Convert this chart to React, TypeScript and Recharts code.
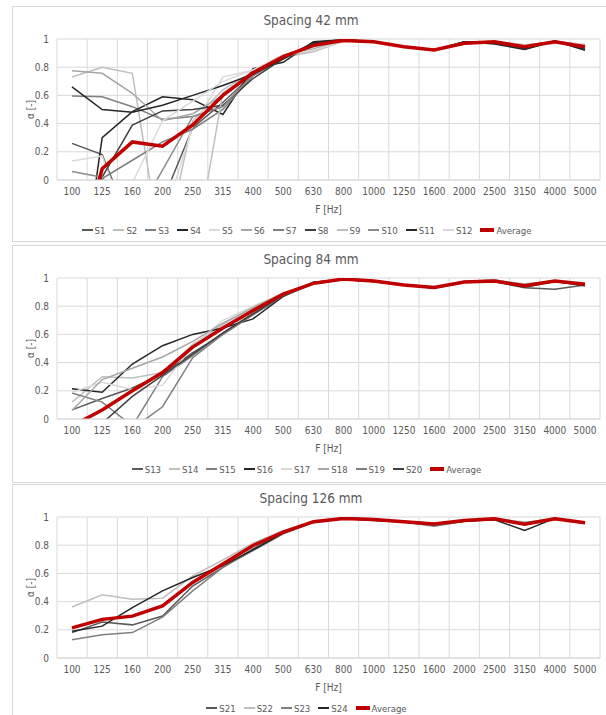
import React from 'react';
import { LineChart, Line, XAxis, YAxis, CartesianGrid, Legend } from 'recharts';

const FONT = '"Liberation Sans Narrow", "Arial Narrow", "DejaVu Sans Condensed", sans-serif';
const TEXT = '#595959';
const GRID = '#d9d9d9';
const RED = '#c00000';

const freqs = ['100', '125', '160', '200', '250', '315', '400', '500', '630', '800', '1000', '1250', '1600', '2000', '2500', '3150', '4000', '5000'];
const alphaTicks = [0, 0.1, 0.2, 0.3, 0.4, 0.5, 0.6, 0.7, 0.8, 0.9, 1];

// spacing 42 mm
const s1 = [0.26, 0.18, -0.35, -0.15, 0.37, 0.55, 0.75, 0.87, 0.965, 0.99, 0.98, 0.945, 0.92, 0.975, 0.97, 0.935, 0.98, 0.935];
const s2 = [0.73, 0.8, 0.757, -0.55, 0.42, 0.64, 0.77, 0.87, 0.91, 0.985, 0.98, 0.945, 0.925, 0.965, 0.98, 0.955, 0.975, 0.965];
const s3 = [0.595, 0.59, 0.52, 0.43, 0.45, 0.52, 0.74, 0.87, 0.95, 0.99, 0.98, 0.945, 0.92, 0.97, 0.975, 0.94, 0.98, 0.945];
const s4 = [-1.2, 0.3, 0.485, 0.59, 0.57, 0.465, 0.79, 0.835, 0.98, 0.995, 0.98, 0.945, 0.92, 0.98, 0.97, 0.93, 0.985, 0.925];
const s5 = [0.135, 0.17, -0.4, -0.3, 0.38, 0.73, 0.78, 0.88, 0.94, 0.99, 0.98, 0.945, 0.925, 0.97, 0.98, 0.955, 0.97, 0.96];
const s6 = [0.775, 0.757, 0.615, 0.42, 0.47, 0.6, 0.77, 0.88, 0.93, 0.99, 0.98, 0.945, 0.92, 0.97, 0.98, 0.95, 0.985, 0.955];
const s7 = [-0.5, 0.01, 0.14, 0.27, 0.36, 0.5, 0.74, 0.86, 0.95, 0.99, 0.98, 0.945, 0.92, 0.97, 0.98, 0.945, 0.98, 0.95];
const s8 = [-0.6, 0.02, 0.39, 0.49, 0.5, 0.53, 0.72, 0.86, 0.97, 0.99, 0.98, 0.945, 0.92, 0.975, 0.975, 0.93, 0.985, 0.93];
const s9 = [-1.5, -1.2, -1.0, -0.9, -0.6, 0.62, 0.76, 0.88, 0.92, 0.985, 0.98, 0.945, 0.925, 0.965, 0.98, 0.96, 0.975, 0.96];
const s10 = [0.06, 0.02, -0.3, 0.07, 0.45, 0.52, 0.75, 0.87, 0.95, 0.99, 0.98, 0.945, 0.92, 0.97, 0.98, 0.945, 0.98, 0.94];
const s11 = [0.66, 0.5, 0.48, 0.53, 0.6, 0.67, 0.75, 0.86, 0.975, 0.995, 0.98, 0.945, 0.92, 0.98, 0.965, 0.925, 0.985, 0.92];
const s12 = [-1.0, -0.5, -0.02, 0.42, 0.56, 0.7, 0.78, 0.89, 0.92, 0.985, 0.98, 0.945, 0.925, 0.965, 0.98, 0.96, 0.97, 0.965];
const avg42 = [-0.7, 0.08, 0.27, 0.24, 0.39, 0.6, 0.76, 0.875, 0.955, 0.99, 0.98, 0.945, 0.922, 0.97, 0.98, 0.945, 0.98, 0.945];

// spacing 84 mm
const s13 = [0.065, 0.145, 0.22, 0.32, 0.47, 0.6, 0.74, 0.87, 0.96, 0.99, 0.975, 0.95, 0.93, 0.97, 0.975, 0.93, 0.92, 0.95];
const s14 = [0.12, 0.3, 0.29, 0.33, 0.53, 0.67, 0.79, 0.89, 0.96, 0.99, 0.98, 0.955, 0.935, 0.975, 0.985, 0.955, 0.98, 0.965];
const s15 = [0.185, 0.12, -0.05, 0.3, 0.45, 0.61, 0.75, 0.88, 0.965, 0.99, 0.975, 0.95, 0.93, 0.97, 0.98, 0.945, 0.975, 0.95];
const s16 = [0.215, 0.19, 0.39, 0.52, 0.6, 0.645, 0.71, 0.87, 0.97, 0.99, 0.975, 0.95, 0.93, 0.975, 0.975, 0.94, 0.98, 0.945];
const s17 = [0.19, 0.26, 0.21, 0.24, 0.52, 0.7, 0.8, 0.895, 0.96, 0.99, 0.98, 0.955, 0.94, 0.975, 0.985, 0.96, 0.98, 0.965];
const s18 = [0.06, 0.28, 0.36, 0.44, 0.55, 0.68, 0.79, 0.89, 0.965, 0.99, 0.98, 0.95, 0.935, 0.975, 0.985, 0.955, 0.98, 0.96];
const s19 = [-0.4, -0.2, -0.07, 0.087, 0.435, 0.6, 0.74, 0.875, 0.96, 0.99, 0.975, 0.95, 0.93, 0.97, 0.98, 0.945, 0.975, 0.955];
const s20 = [-0.25, -0.03, 0.16, 0.31, 0.46, 0.61, 0.745, 0.88, 0.97, 0.99, 0.975, 0.95, 0.93, 0.97, 0.975, 0.935, 0.975, 0.945];
const avg84 = [-0.05, 0.064, 0.2, 0.33, 0.51, 0.645, 0.77, 0.885, 0.962, 0.993, 0.978, 0.95, 0.932, 0.972, 0.978, 0.945, 0.978, 0.955];

// spacing 126 mm
const s21 = [0.18, 0.255, 0.235, 0.298, 0.51, 0.643, 0.774, 0.893, 0.965, 0.99, 0.98, 0.965, 0.94, 0.97, 0.985, 0.96, 0.985, 0.955];
const s22 = [0.362, 0.448, 0.417, 0.424, 0.583, 0.695, 0.814, 0.905, 0.965, 0.99, 0.985, 0.97, 0.955, 0.975, 0.99, 0.965, 0.985, 0.965];
const s23 = [0.13, 0.165, 0.18, 0.29, 0.476, 0.643, 0.762, 0.88, 0.96, 0.99, 0.98, 0.965, 0.935, 0.97, 0.985, 0.96, 0.985, 0.96];
const s24 = [0.19, 0.226, 0.357, 0.476, 0.571, 0.655, 0.767, 0.886, 0.965, 0.99, 0.975, 0.965, 0.95, 0.97, 0.98, 0.905, 0.99, 0.955];
const avg126 = [0.214, 0.274, 0.297, 0.369, 0.536, 0.667, 0.798, 0.893, 0.967, 0.99, 0.983, 0.967, 0.95, 0.975, 0.988, 0.948, 0.988, 0.96];

type Series = { name: string; color: string; values: number[] };

const panel42: Series[] = [
  { name: 'S1', color: '#595959', values: s1 },
  { name: 'S2', color: '#bfbfbf', values: s2 },
  { name: 'S3', color: '#7f7f7f', values: s3 },
  { name: 'S4', color: '#262626', values: s4 },
  { name: 'S5', color: '#d9d9d9', values: s5 },
  { name: 'S6', color: '#a6a6a6', values: s6 },
  { name: 'S7', color: '#7f7f7f', values: s7 },
  { name: 'S8', color: '#404040', values: s8 },
  { name: 'S9', color: '#bfbfbf', values: s9 },
  { name: 'S10', color: '#8c8c8c', values: s10 },
  { name: 'S11', color: '#262626', values: s11 },
  { name: 'S12', color: '#d9d9d9', values: s12 },
  { name: 'Average', color: RED, values: avg42 },
];

const panel84: Series[] = [
  { name: 'S13', color: '#595959', values: s13 },
  { name: 'S14', color: '#bfbfbf', values: s14 },
  { name: 'S15', color: '#7f7f7f', values: s15 },
  { name: 'S16', color: '#262626', values: s16 },
  { name: 'S17', color: '#d9d9d9', values: s17 },
  { name: 'S18', color: '#a6a6a6', values: s18 },
  { name: 'S19', color: '#7f7f7f', values: s19 },
  { name: 'S20', color: '#404040', values: s20 },
  { name: 'Average', color: RED, values: avg84 },
];

const panel126: Series[] = [
  { name: 'S21', color: '#595959', values: s21 },
  { name: 'S22', color: '#bfbfbf', values: s22 },
  { name: 'S23', color: '#7f7f7f', values: s23 },
  { name: 'S24', color: '#262626', values: s24 },
  { name: 'Average', color: RED, values: avg126 },
];

const CHART_W = 596;
const CHART_H = 233;

// Excel puts the vertical gridlines between categories, not on them
const betweenCategories = ({ offset }: any) => {
  const step = offset.width / freqs.length;
  return freqs.map((_, i) => offset.left + i * step).concat(offset.left + offset.width);
};

const AlphaLabel = (props: any) => {
  const { viewBox } = props;
  const x = viewBox.x + 17;
  const y = viewBox.y + viewBox.height / 2;
  return (
    <text x={x} y={y} transform={`rotate(-90 ${x} ${y})`} textAnchor="middle" dominantBaseline="central" fill={TEXT} fontSize={10}>
      α [-]
    </text>
  );
};

// keep legend entries in series order (S1, S2, ..., Average)
const LegendRow = ({ payload, order }: any) => {
  const items = [...(payload || [])].sort((a: any, b: any) => order.indexOf(a.value) - order.indexOf(b.value));
  return (
    <div style={{ height: 26, paddingTop: 6, paddingLeft: 8, boxSizing: 'border-box', display: 'flex', justifyContent: 'center', alignItems: 'center', fontSize: 9.5, color: TEXT }}>
      {items.map((e: any) => (
        <span key={e.value} style={{ display: 'inline-flex', alignItems: 'center', marginRight: 8 }}>
          <span style={{ display: 'inline-block', width: e.value === 'Average' ? 14 : 11, height: e.value === 'Average' ? 4 : 2, background: e.color, marginRight: 2 }} />
          {e.value}
        </span>
      ))}
    </div>
  );
};

function SpacingPanel({ title, series, top, height }: { title: string; series: Series[]; top: number; height: number }) {
  const rows = freqs.map((f, i) => {
    const row: Record<string, string | number> = { f };
    series.forEach((s) => { row[s.name] = s.values[i]; });
    return row;
  });
  return (
    <div style={{ position: 'absolute', left: 12, top, width: 600, height, border: `1px solid ${GRID}`, background: '#fff' }}>
      <div style={{ position: 'absolute', left: 0, width: CHART_W, top: 5, textAlign: 'center', fontSize: 13.5, color: TEXT }}>{title}</div>
      <LineChart width={CHART_W} height={CHART_H} data={rows} margin={{ top: 32, right: 9, bottom: 0, left: 0 }}>
        <CartesianGrid stroke={GRID} verticalCoordinatesGenerator={betweenCategories} />
        <XAxis
          dataKey="f"
          interval={0}
          padding={{ left: 15, right: 15 }}
          height={34}
          tickLine={false}
          axisLine={{ stroke: GRID }}
          tick={{ fill: TEXT, fontSize: 10 }}
          label={{ value: 'F [Hz]', position: 'insideBottom', offset: 1, fill: TEXT, fontSize: 10 }}
        />
        <YAxis
          width={44}
          domain={[0, 1]}
          ticks={alphaTicks}
          allowDataOverflow
          tickLine={false}
          axisLine={false}
          tick={{ fill: TEXT, fontSize: 10 }}
          tickFormatter={(v: number) => String(v)}
          label={<AlphaLabel />}
        />
        <Legend verticalAlign="bottom" height={26} content={<LegendRow order={series.map((s) => s.name)} />} />
        {series.map((s) => (
          <Line
            key={s.name}
            dataKey={s.name}
            name={s.name}
            stroke={s.color}
            strokeWidth={s.name === 'Average' ? 3.5 : 1.5}
            dot={false}
            activeDot={false}
            isAnimationActive={false}
          />
        ))}
      </LineChart>
    </div>
  );
}

export default function App() {
  return (
    <div style={{ position: 'absolute', left: 0, top: 0, width: 606, height: 715, overflow: 'hidden', background: '#fff', fontFamily: FONT }}>
      <SpacingPanel title="Spacing 42 mm" series={panel42} top={6} height={234} />
      <SpacingPanel title="Spacing 84 mm" series={panel84} top={245} height={236} />
      <SpacingPanel title="Spacing 126 mm" series={panel126} top={484} height={240} />
    </div>
  );
}
